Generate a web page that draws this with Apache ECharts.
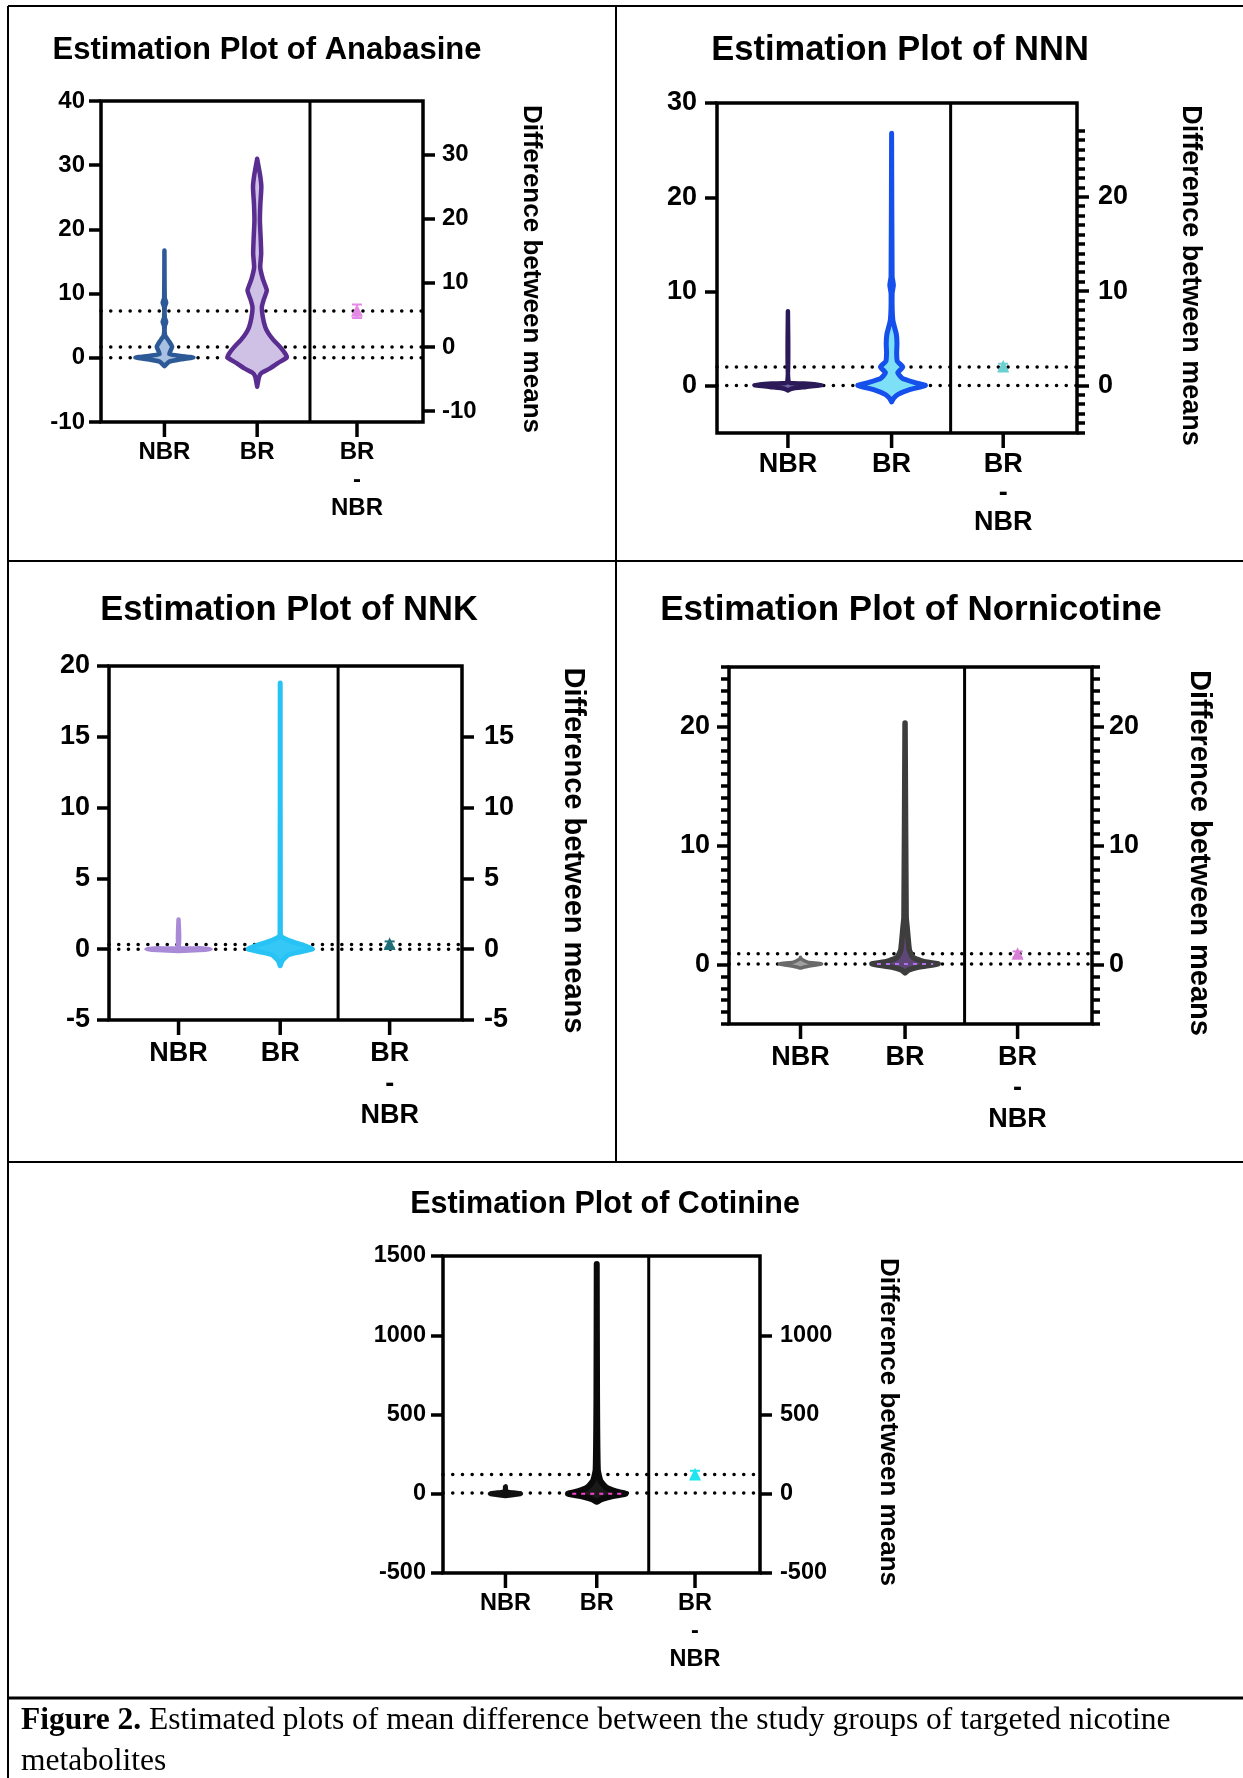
<!DOCTYPE html>
<html>
<head>
<meta charset="utf-8">
<title>Estimation plots of nicotine metabolites</title>
<script src="https://cdn.jsdelivr.net/npm/echarts@6/dist/echarts.min.js"></script>
<style>
  html, body { margin: 0; padding: 0; background: #fff; }
  #main { width: 1243px; height: 1778px; }
</style>
</head>
<body>
<div id="main"></div>
<script type="text/javascript">
// x axis runs 0..100 across each plot box
var catNames = ['NBR', 'BR', 'BR\n-\nNBR'];
var catPos = [19.7, 48.5, 79.5];
var dividerPos = 64.9;

// violin outlines: value on y, half width (in x units) at that value
// Anabasine
var anaNbrY = [16.7, 9.3, 8.6, 7.9, 6.3, 5.6, 4.9, 3.5, 2.6, 1.7, 0.6, 0.3, 0.05, -0.25, -0.6, -1.3];
var anaNbrW = [0, 0.1, 0.55, 0.1, 0.1, 0.55, 0.1, 0.2, 1.4, 2.4, 1.5, 5.0, 9.0, 5.0, 1.5, 0];
var anaBrY = [31, 28.5, 26.6, 24, 21.4, 18.5, 16.2, 14.1, 12.2, 10.5, 9, 7.9, 6.2, 4.8, 3.8, 2.75, 1.7, 0.6, 0.05, -0.8, -1.65, -2.3, -2.95, -4.5];
var anaBrW = [0, 0.9, 1.3, 1.0, 0.85, 1.1, 1.25, 0.95, 1.8, 3.0, 2.0, 1.45, 1.8, 2.5, 3.5, 5.1, 7.1, 8.8, 9.2, 6.5, 4.0, 1.5, 0.6, 0];
var anaMeans = [0, 1.7, 7.3];
var anaDiff = [5.55, 4.5, 6.6];   // mean, lower, upper (right axis)
var anaLeftTicks = [-10, 0, 10, 20, 30, 40];
var anaRightTicks = [-10, 0, 10, 20, 30];

// NNN
var nnnNbrY = [7.9, 0.4, 0.25, 0.08, -0.12, -0.3, -0.5];
var nnnNbrW = [0, 0.2, 4.5, 9.3, 5, 1, 0];
var nnnBrY = [26.8, 11.6, 10.7, 9.8, 6.95, 5.5, 4.5, 3.5, 2.6, 2.0, 1.4, 0.8, 0.35, 0.05, -0.4, -0.9, -1.3, -1.7];
var nnnBrW = [0, 0.15, 0.5, 0.15, 0.35, 1.3, 1.5, 1.4, 1.6, 3.1, 1.7, 3.0, 6.5, 9.4, 5.0, 1.8, 0.6, 0];
var nnnMeans = [0.05, 2.0];
var nnnDiff = [1.95, 1.6, 2.3];
var nnnLeftTicks = [0, 10, 20, 30];
var nnnRightTicks = [0, 10, 20];
var nnnRightMinor = [-5, -4, -3, -2, -1, 1, 2, 3, 4, 5, 6, 7, 8, 9, 11, 12, 13, 14, 15, 16, 17, 18, 19, 21, 22, 23, 24, 25, 26, 27];

// NNK
var nnkNbrY = [2.1, 0.12, 0.06, 0, -0.06, -0.12];
var nnkNbrW = [0, 0.05, 6, 9.1, 6, 0];
var nnkBrY = [18.8, 1.3, 0.9, 0.55, 0.2, 0, -0.2, -0.4, -0.8, -1.17];
var nnkBrW = [0, 0.05, 0.3, 3.1, 7.4, 9.1, 5.5, 2.3, 0.6, 0];
var nnkMeans = [0, 0.33];
var nnkDiff = [0.33, 0.1, 0.55];
var nnkLeftTicks = [-5, 0, 5, 10, 15, 20];
var nnkRightTicks = [-5, 0, 5, 10, 15];

// Nornicotine
var norNbrY = [0.6, 0.45, 0.2, 0.05, -0.15, -0.3];
var norNbrW = [0, 0.3, 2, 5.8, 2, 0];
var norBrY = [20.3, 4, 3, 2, 1.2, 0.6, 0.25, 0.05, -0.2, -0.45, -0.7];
var norBrW = [0, 0.3, 0.6, 0.9, 1.2, 2.2, 5, 9.1, 4, 1, 0];
var norMeans = [0.05, 0.9];
var norDiff = [0.85, 0.6, 1.1];
var norMajor = [0, 10, 20];
var norMinor = [-5, -4, -3, -2, -1, 1, 2, 3, 4, 5, 6, 7, 8, 9, 11, 12, 13, 14, 15, 16, 17, 18, 19, 21, 22, 23, 24, 25];

// Cotinine
var cotNbrY = [45, 12, 6, 0, -6, -12];
var cotNbrW = [0, 0.2, 2.5, 4.8, 2.5, 0];
var cotBrY = [1450, 600, 150, 80, 40, 15, 0, -15, -35, -51];
var cotBrW = [0, 0.1, 0.35, 1.2, 3.0, 6.0, 9.1, 5.0, 1.5, 0];
var cotMeans = [5, 122];
var cotDiff = [118, 95, 145];
var cotLeftTicks = [-500, 0, 500, 1000, 1500];
var cotRightTicks = [-500, 0, 500, 1000];

var FONT = '"Liberation Sans", Arial, sans-serif';
var SERIF = '"Liberation Serif", "Times New Roman", serif';
var TICK_LEN = 15;   // px, x tick marks under the box

var panels = [
  { title: 'Estimation Plot of Anabasine', tx: 262, ty: 45, tSize: 31,
    box: [101, 101, 322, 321], fs: 24, nameSize: 26, nameGap: 80, lh: 28, lm: 16, rm: 19, xm: 1,
    yMin: -10, yMax: 40, offset: 1.7, leftTicks: anaLeftTicks, rightTicks: anaRightTicks,
    violins: [
      { ys: anaNbrY, ws: anaNbrW, cat: 0, stroke: '#2d5a97', fill: '#a8c1e3', lw: 4.5 },
      { ys: anaBrY, ws: anaBrW, cat: 1, stroke: '#5a2d91', fill: '#cfc0e6', lw: 4.5 }
    ],
    means: anaMeans, diff: anaDiff, diffColor: '#e48ae6' },
  { title: 'Estimation Plot of NNN', tx: 895, ty: 45, tSize: 34.5,
    box: [717, 103, 360, 330], fs: 27, nameSize: 27, nameGap: 85, lh: 29, lm: 20, rm: 21, xm: 2.5,
    yMin: -5, yMax: 30, offset: 0.05, leftTicks: nnnLeftTicks, rightTicks: nnnRightTicks,
    rightMinor: nnnRightMinor,
    violins: [
      { ys: nnnNbrY, ws: nnnNbrW, cat: 0, stroke: '#2b1a57', fill: '#6e5fa0', lw: 4.5 },
      { ys: nnnBrY, ws: nnnBrW, cat: 1, stroke: '#1650ec', fill: '#7ee0f7', lw: 5 }
    ],
    means: nnnMeans, diff: nnnDiff, diffColor: '#6ccfd2' },
  { title: 'Estimation Plot of NNK', tx: 284, ty: 605, tSize: 34.5,
    box: [109, 666, 353, 354], fs: 27, nameSize: 29, nameGap: 81, lh: 31, lm: 19, rm: 22, xm: 3.5,
    yMin: -5, yMax: 20, offset: 0, leftTicks: nnkLeftTicks, rightTicks: nnkRightTicks,
    violins: [
      { ys: nnkNbrY, ws: nnkNbrW, cat: 0, stroke: '#a88ad6', fill: '#c3b0e6', lw: 4.5 },
      { ys: nnkBrY, ws: nnkBrW, cat: 1, stroke: '#27c3f5', fill: '#35c8f7', lw: 5 }
    ],
    means: nnkMeans, diff: nnkDiff, diffColor: '#1f6f78' },
  { title: 'Estimation Plot of Nornicotine', tx: 906, ty: 605, tSize: 35,
    box: [729, 667, 363, 357], fs: 27, nameSize: 29, nameGap: 77, lh: 31, lm: 19, rm: 17, xm: 3.5,
    yMin: -5, yMax: 25, offset: 0, leftTicks: norMajor, rightTicks: norMajor,
    leftMinor: norMinor, rightMinor: norMinor,
    violins: [
      { ys: norNbrY, ws: norNbrW, cat: 0, stroke: '#6a6a6a', fill: '#a0a0a0', lw: 3.5 },
      { ys: norBrY, ws: norBrW, cat: 1, stroke: '#3d3d3d', fill: '#5e4676', lw: 5.5, inner: 0.05, innerColor: '#b070f0' }
    ],
    means: norMeans, diff: norDiff, diffColor: '#d77fd6' },
  { title: 'Estimation Plot of Cotinine', tx: 600, ty: 1200, tSize: 30.5,
    box: [443, 1256, 317, 317], fs: 23.5, nameSize: 26, nameGap: 100, lh: 28, lm: 17, rm: 20, xm: 1.5,
    yMin: -500, yMax: 1500, offset: 0, leftTicks: cotLeftTicks, rightTicks: cotRightTicks,
    violins: [
      { ys: cotNbrY, ws: cotNbrW, cat: 0, stroke: '#111111', fill: '#333333', lw: 5 },
      { ys: cotBrY, ws: cotBrW, cat: 1, stroke: '#0a0a0a', fill: '#1a1a1a', lw: 6, inner: 0, innerColor: '#ff3fd0' }
    ],
    means: cotMeans, diff: cotDiff, diffColor: '#20e5ef' }
];

var grids = [], xAxes = [], yAxes = [], series = [], titles = [];

function catLabel(v) {
  var best = 0;
  for (var i = 1; i < catPos.length; i++) {
    if (Math.abs(catPos[i] - v) < Math.abs(catPos[best] - v)) best = i;
  }
  return catNames[best];
}

function plainNum(v) { return String(v); }

function violin(xi, yi, v) {
  var cx = catPos[v.cat];
  var data = v.ys.map(function (y, i) { return [cx, y, v.ws[i]]; });
  return {
    type: 'custom', xAxisIndex: xi, yAxisIndex: yi, z: 3,
    data: data,
    renderItem: function (params, api) {
      if (params.dataIndex !== 0) return;
      var left = [], right = [], k;
      for (k = 0; k < data.length; k++) {
        left.push(api.coord([data[k][0] - data[k][2], data[k][1]]));
        right.unshift(api.coord([data[k][0] + data[k][2], data[k][1]]));
      }
      var kids = [{
        type: 'polygon',
        shape: { points: left.concat(right), smooth: 0.15 },
        style: { fill: v.fill, stroke: v.stroke, lineWidth: v.lw, lineJoin: 'round' }
      }];
      if (v.inner !== undefined) {
        var j = v.ys.indexOf(v.inner);
        var a = api.coord([cx - v.ws[j] * 0.85, v.inner]);
        var b = api.coord([cx + v.ws[j] * 0.85, v.inner]);
        kids.push({
          type: 'line', shape: { x1: a[0], y1: a[1], x2: b[0], y2: b[1] },
          style: { stroke: v.innerColor, lineWidth: 2, lineDash: [4, 5] }
        });
      }
      return { type: 'group', children: kids };
    }
  };
}

panels.forEach(function (p, gi) {
  // the grid reaches TICK_LEN px below the drawn box, so the x ticks sit inside it
  var bottomExt = TICK_LEN * (p.yMax - p.yMin) / p.box[3];
  var axisMin = p.yMin - bottomExt;

  grids.push({
    left: p.box[0], top: p.box[1], width: p.box[2], height: p.box[3] + TICK_LEN, show: false
  });
  titles.push({
    text: p.title, left: p.tx, top: p.ty, textAlign: 'center', textVerticalAlign: 'middle',
    textStyle: { fontFamily: FONT, fontWeight: 'bold', fontSize: p.tSize, color: '#000' }
  });

  var xi = xAxes.length;
  xAxes.push({
    gridIndex: gi, type: 'value', min: 0, max: 100, position: 'bottom',
    axisLine: { show: false, onZero: false },
    splitLine: { show: false },
    axisTick: { show: false },
    axisLabel: {
      customValues: catPos, formatter: catLabel, margin: p.xm,
      fontFamily: FONT, fontWeight: 'bold', fontSize: p.fs, color: '#000', lineHeight: p.lh
    }
  });

  var tickStyle = { color: '#000', width: 3.5 };
  var labStyle = { fontFamily: FONT, fontWeight: 'bold', fontSize: p.fs, color: '#000', formatter: plainNum };

  var yl = yAxes.length;
  yAxes.push({
    gridIndex: gi, type: 'value', position: 'left', min: axisMin, max: p.yMax,
    axisLine: { show: false, onZero: false }, splitLine: { show: false },
    axisTick: { customValues: p.leftTicks, length: 12, lineStyle: tickStyle },
    axisLabel: Object.assign({ customValues: p.leftTicks, margin: p.lm }, labStyle)
  });
  var yr = yAxes.length;
  yAxes.push({
    gridIndex: gi, type: 'value', position: 'right', min: axisMin - p.offset, max: p.yMax - p.offset,
    axisLine: { show: false, onZero: false }, splitLine: { show: false },
    axisTick: { customValues: p.rightTicks, length: 12, lineStyle: tickStyle },
    axisLabel: Object.assign({ customValues: p.rightTicks, margin: p.rm }, labStyle),
    name: 'Difference between means', nameLocation: 'middle', nameRotate: -90, nameGap: p.nameGap,
    nameTextStyle: { fontFamily: FONT, fontWeight: 'bold', fontSize: p.nameSize, color: '#000',
      padding: [0, 0, TICK_LEN, 0] }
  });
  if (p.leftMinor) {
    yAxes.push({
      gridIndex: gi, type: 'value', position: 'left', min: axisMin, max: p.yMax,
      axisLine: { show: false, onZero: false }, splitLine: { show: false }, axisLabel: { show: false },
      axisTick: { customValues: p.leftMinor, length: 8, lineStyle: tickStyle }
    });
  }
  if (p.rightMinor) {
    yAxes.push({
      gridIndex: gi, type: 'value', position: 'right', min: axisMin - p.offset, max: p.yMax - p.offset,
      axisLine: { show: false, onZero: false }, splitLine: { show: false }, axisLabel: { show: false },
      axisTick: { customValues: p.rightMinor, length: 8, lineStyle: tickStyle }
    });
  }

  // plot frame
  series.push({
    type: 'custom', xAxisIndex: xi, yAxisIndex: yl, z: 4,
    data: [[0, p.yMin, 100, p.yMax]],
    renderItem: function (params, api) {
      var a = api.coord([api.value(0), api.value(1)]);
      var b = api.coord([api.value(2), api.value(3)]);
      return { type: 'rect', shape: { x: a[0], y: b[1], width: b[0] - a[0], height: a[1] - b[1] },
        style: { fill: 'none', stroke: '#000', lineWidth: 3.5 } };
    }
  });

  // x tick marks below the frame
  series.push({
    type: 'custom', xAxisIndex: xi, yAxisIndex: yl, z: 4,
    data: catPos.map(function (x) { return [x, p.yMin, axisMin]; }),
    renderItem: function (params, api) {
      var a = api.coord([api.value(0), api.value(1)]);
      var b = api.coord([api.value(0), api.value(2)]);
      return { type: 'line', shape: { x1: a[0], y1: a[1], x2: b[0], y2: b[1] },
        style: { stroke: '#000', lineWidth: 3.5 } };
    }
  });

  // dotted lines at the group means
  p.means.forEach(function (m) {
    series.push({
      type: 'line', xAxisIndex: xi, yAxisIndex: yl, z: 2, symbol: 'none',
      data: [[0, m], [100, m]],
      lineStyle: { color: '#000', width: 3.5, type: [0.1, 9.6], cap: 'round' }
    });
  });

  // divider between groups and difference
  series.push({
    type: 'line', xAxisIndex: xi, yAxisIndex: yl, z: 4, symbol: 'none',
    data: [[dividerPos, p.yMin], [dividerPos, p.yMax]],
    lineStyle: { color: '#000', width: 3 }
  });

  p.violins.forEach(function (v) { series.push(violin(xi, yl, v)); });

  // mean difference with its interval
  series.push({
    type: 'custom', xAxisIndex: xi, yAxisIndex: yr, z: 5,
    data: [[catPos[2], p.diff[0], p.diff[1], p.diff[2]]],
    renderItem: function (params, api) {
      var c = api.coord([api.value(0), api.value(1)]);
      var lo = api.coord([api.value(0), api.value(2)]);
      var hi = api.coord([api.value(0), api.value(3)]);
      var s = 12;
      return {
        type: 'group', children: [
          { type: 'line', shape: { x1: lo[0], y1: lo[1], x2: hi[0], y2: hi[1] }, style: { stroke: p.diffColor, lineWidth: 2 } },
          { type: 'line', shape: { x1: hi[0] - 5, y1: hi[1], x2: hi[0] + 5, y2: hi[1] }, style: { stroke: p.diffColor, lineWidth: 2 } },
          { type: 'line', shape: { x1: lo[0] - 5, y1: lo[1], x2: lo[0] + 5, y2: lo[1] }, style: { stroke: p.diffColor, lineWidth: 2 } },
          { type: 'polygon', shape: { points: [[c[0], c[1] - s * 0.6], [c[0] - s / 2, c[1] + s * 0.45], [c[0] + s / 2, c[1] + s * 0.45]] },
            style: { fill: p.diffColor } }
        ]
      };
    }
  });
});

var frame = { stroke: '#000', lineWidth: 2 };
var graphics = [
  { type: 'line', shape: { x1: 8, y1: 6, x2: 1243, y2: 6 }, style: frame },
  { type: 'line', shape: { x1: 8, y1: 6, x2: 8, y2: 1778 }, style: frame },
  { type: 'line', shape: { x1: 616, y1: 6, x2: 616, y2: 1162 }, style: frame },
  { type: 'line', shape: { x1: 8, y1: 561, x2: 1243, y2: 561 }, style: frame },
  { type: 'line', shape: { x1: 8, y1: 1162, x2: 1243, y2: 1162 }, style: frame },
  { type: 'line', shape: { x1: 8, y1: 1698, x2: 1243, y2: 1698 }, style: { stroke: '#000', lineWidth: 3 } },
  { type: 'text', left: 21, top: 1705, style: {
      text: '{b|Figure 2.} Estimated plots of mean difference between the study groups of targeted nicotine',
      fontFamily: SERIF, fontSize: 31.5, fill: '#000',
      rich: { b: { fontWeight: 'bold', fontFamily: SERIF, fontSize: 31.5 } } } },
  { type: 'text', left: 21, top: 1746, style: {
      text: 'metabolites', fontFamily: SERIF, fontSize: 31.5, fill: '#000' } }
];

var myChart = echarts.init(document.getElementById('main'));
myChart.setOption({
  animation: false,
  backgroundColor: '#fff',
  title: titles,
  grid: grids,
  xAxis: xAxes,
  yAxis: yAxes,
  series: series,
  graphic: graphics
});
</script>
</body>
</html>
